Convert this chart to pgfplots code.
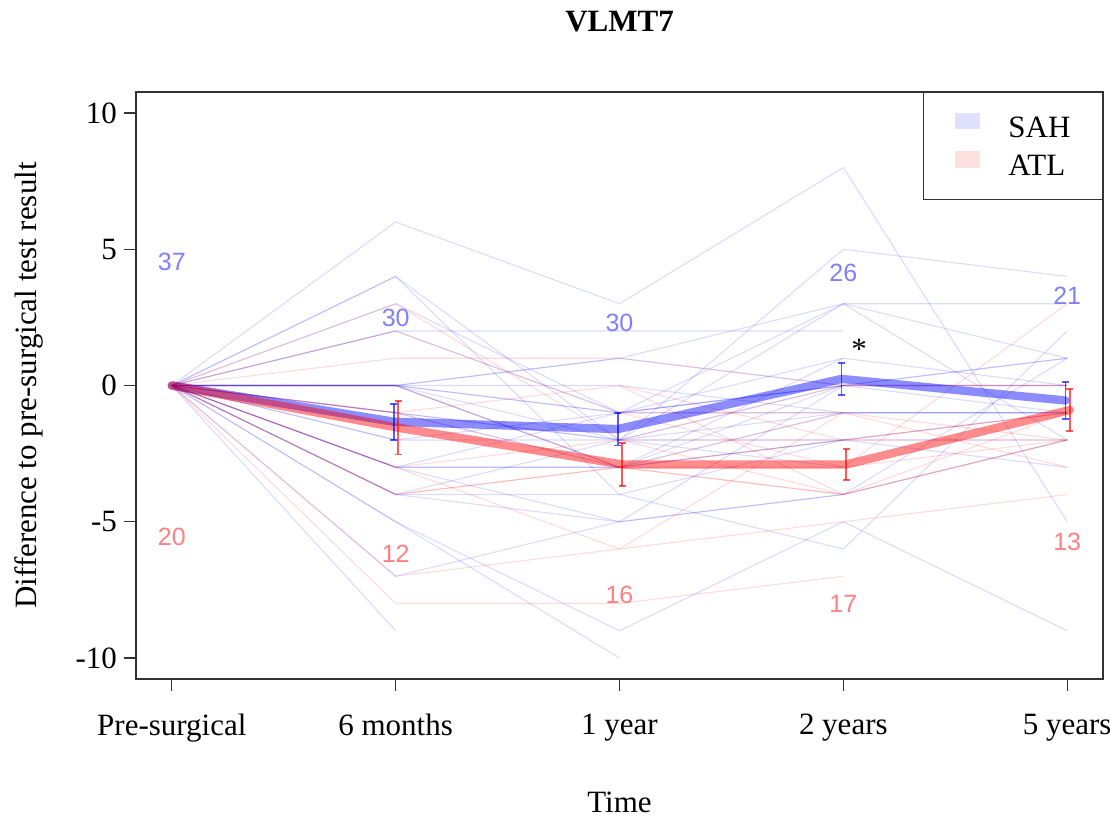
\documentclass[border=0pt]{standalone}
\usepackage{fontspec}
\setmainfont{Liberation Serif}
\newfontfamily\arialfont{Liberation Sans}
\usepackage{pgfplots}
\pgfplotsset{compat=1.18}

\definecolor{sahline}{RGB}{0,0,255}
\definecolor{atlline}{RGB}{255,0,0}
\definecolor{sahtext}{RGB}{128,128,255}
\definecolor{atltext}{RGB}{255,128,128}
\definecolor{sahleg}{RGB}{224,224,255}
\definecolor{atlleg}{RGB}{255,224,224}

\newcommand\rfont{\fontsize{15.5}{18}\selectfont}
\newcommand\nfont{\arialfont\fontsize{12.5}{14}\selectfont}

\pgfplotsset{
  sah/.style={sahline, opacity=0.14, line width=0.55pt, no markers, forget plot},
  atl/.style={atlline, opacity=0.14, line width=0.55pt, no markers, forget plot},
  every axis title/.style={at={(axis description cs:0.5,1.1022)}, anchor=base},
}

\begin{document}
\begin{tikzpicture}
\begin{axis}[
  name=ax,
  scale only axis,
  width=483.5pt, height=293.5pt,
  xmin=-0.16, xmax=4.16, ymin=-10.77, ymax=10.77,
  enlargelimits=false,
  xtick={0,1,2,3,4},
  xticklabels={Pre-surgical,6 months,1 year,2 years,5 years},
  ytick={-10,-5,0,5,10},
  yticklabels={-10,-5,0,5,10},
  tick align=outside, xtick pos=bottom, ytick pos=left,
  major tick length=6pt,
  tick style={black!80, line width=0.6pt},
  axis line style={black!80, line width=0.6pt},
  tick label style={font=\rfont},
  xticklabel style={yshift=-8pt},
  label style={font=\rfont},
  title style={font=\rfont\bfseries},
  title={VLMT7},
  xlabel={Time},
  xlabel style={at={(axis description cs:0.5,-0.2266)}, anchor=base},
  ylabel={Difference to pre-surgical test result},
  ylabel style={at={(axis description cs:-0.1024,0.5)}, anchor=base},
  legend style={
    at={(rel axis cs:1,1)}, anchor=north east,
    draw=black!80, line width=0.6pt, fill=white,
    inner xsep=16pt, inner ysep=10.2pt,
    row sep=5.4pt, font=\rfont,
    nodes={inner sep=0pt, text height=10.3pt, text depth=1.8pt},
    /tikz/every odd column/.append style={column sep=14pt},
  },
  legend cell align=left,
  unbounded coords=jump,
  clip=false,
]
\addlegendimage{legend image code/.code={\fill[sahleg] (0pt,0pt) rectangle (12pt,7.5pt);}}
\addlegendentry{SAH}
\addlegendimage{legend image code/.code={\fill[atlleg] (0pt,0pt) rectangle (12pt,7.5pt);}}
\addlegendentry{ATL}

% individual SAH patients
\addplot[sah] coordinates {(0,0)(1,6)(2,3)(3,8)(4,-5)};
\addplot[sah] coordinates {(0,0)(1,4)(2,-2)(3,5)(4,4)};
\addplot[sah] coordinates {(0,0)(1,4)(2,-4)(3,-6)(4,2)};
\addplot[sah] coordinates {(0,0)(1,3)(2,-1)(3,3)(4,3)};
\addplot[sah] coordinates {(0,0)(1,2)(2,2)(3,2)(4,nan)};
\addplot[sah] coordinates {(0,0)(1,0)(2,1)(3,3)(4,-2)};
\addplot[sah] coordinates {(0,0)(1,0)(2,1)(3,0)(4,1)};
\addplot[sah] coordinates {(0,0)(1,0)(2,0)(3,-1)(4,-1)};
\addplot[sah] coordinates {(0,0)(1,0)(2,-3)(3,1)(4,0)};
\addplot[sah] coordinates {(0,0)(1,0)(2,-1)(3,-1)(4,-1)};
\addplot[sah] coordinates {(0,0)(1,-1)(2,-3)(3,0)(4,1)};
\addplot[sah] coordinates {(0,0)(1,-2)(2,-2)(3,3)(4,1)};
\addplot[sah] coordinates {(0,0)(1,-3)(2,-3)(3,-2)(4,-2)};
\addplot[sah] coordinates {(0,0)(1,-3)(2,-5)(3,-4)(4,1)};
\addplot[sah] coordinates {(0,0)(1,-4)(2,-2)(3,-2)(4,-3)};
\addplot[sah] coordinates {(0,0)(1,-4)(2,-4)(3,-2)(4,-1)};
\addplot[sah] coordinates {(0,0)(1,-5)(2,-10)};
\addplot[sah] coordinates {(0,0)(1,-5)(2,-9)(3,-5)(4,-9)};
\addplot[sah] coordinates {(0,0)(1,-7)(2,-5)(3,-4)(4,-2)};
\addplot[sah] coordinates {(0,0)(1,-9)};
\addplot[sah] coordinates {(0,0)(1,2)(2,-1)(3,0)(4,0)};
\addplot[sah] coordinates {(0,0)(1,-1)(2,-2)(3,0)};
\addplot[sah] coordinates {(0,0)(1,0)(2,-1)(3,1)};
\addplot[sah] coordinates {(0,0)(1,-3)(2,-3)(3,-1)};
\addplot[sah] coordinates {(0,0)(1,-1)(2,-2)(3,-3)};
\addplot[sah] coordinates {(0,0)(1,-4)(2,-5)(3,0)};
\addplot[sah] coordinates {(0,0)(1,0)(2,-2)(3,-1)(4,-1)};
\addplot[sah] coordinates {(0,0)(1,-2)(2,-1)(3,0)(4,0)};
\addplot[sah] coordinates {(0,0)(1,0)(2,-3)(3,-2)};
\addplot[sah] coordinates {(0,0)(1,-3)(2,-1)(3,0)(4,-1)};

% individual ATL patients
\addplot[atl] coordinates {(0,0)(1,3)(2,-2)(3,-4)(4,-2)};
\addplot[atl] coordinates {(0,0)(1,2)(2,-1)(3,-1)(4,-3)};
\addplot[atl] coordinates {(0,0)(1,1)(2,1)(3,0)(4,0)};
\addplot[atl] coordinates {(0,0)(1,-1)(2,0)(3,-2)(4,-1)};
\addplot[atl] coordinates {(0,0)(1,0)(2,-3)(3,-3)(4,3)};
\addplot[atl] coordinates {(0,0)(1,-1)(2,-3)(3,-4)(4,-2)};
\addplot[atl] coordinates {(0,0)(1,-3)(2,-6)(3,-1)};
\addplot[atl] coordinates {(0,0)(1,-4)(2,-3)(3,-4)};
\addplot[atl] coordinates {(0,0)(1,-7)(2,-6)(3,-5)(4,-4)};
\addplot[atl] coordinates {(0,0)(1,-8)(2,-8)(3,-7)};
\addplot[atl] coordinates {(0,0)(1,-3)(2,-2)(3,0)(4,0)};
\addplot[atl] coordinates {(0,0)(1,-4)(2,-3)(3,-1)(4,-2)};
\addplot[atl] coordinates {(2,-2)(3,-2)(4,-1)};
\addplot[atl] coordinates {(2,0)(3,-4)};
\addplot[atl] coordinates {(2,-3)(3,-2)(4,-2)};
\addplot[atl] coordinates {(2,-1)(3,-3)(4,-2)};
\addplot[atl] coordinates {(3,-4)(4,-1)};

% group means
\addplot[sahline, opacity=0.45, line width=4.2pt, no markers, forget plot, line join=round, line cap=round]
  coordinates {(0,0)(0.992,-1.33)(1.992,-1.6)(2.992,0.24)(3.992,-0.55)};
\addplot[atlline, opacity=0.45, line width=4.2pt, no markers, forget plot, line join=round, line cap=round]
  coordinates {(0,0)(1.012,-1.55)(2.012,-2.9)(3.012,-2.9)(4.012,-0.9)};

% standard errors
\addplot[draw=none, mark=none, forget plot,
  error bars/.cd, y dir=both, y explicit,
  error bar style={draw=sahline, opacity=0.65, line width=0.9pt},
  error mark options={draw=sahline, opacity=0.65, rotate=90, mark size=1.75pt, line width=0.9pt}]
  coordinates {(0.992,-1.33) +- (0,0.66) (1.992,-1.6) +- (0,0.6)
               (2.992,0.24) +- (0,0.6) (3.992,-0.55) +- (0,0.67)};
\addplot[draw=none, mark=none, forget plot,
  error bars/.cd, y dir=both, y explicit,
  error bar style={draw=atlline, opacity=0.65, line width=0.9pt},
  error mark options={draw=atlline, opacity=0.65, rotate=90, mark size=1.75pt, line width=0.9pt}]
  coordinates {(1.012,-1.55) +- (0,0.98) (2.012,-2.9) +- (0,0.8)
               (3.012,-2.9) +- (0,0.57) (4.012,-0.9) +- (0,0.76)};

% sample sizes
\node[sahtext, font=\nfont] at (axis cs:0,4.52) {37};
\node[atltext, font=\nfont] at (axis cs:0,-5.57) {20};
\node[sahtext, font=\nfont] at (axis cs:1,2.47) {30};
\node[atltext, font=\nfont] at (axis cs:1,-6.19) {12};
\node[sahtext, font=\nfont] at (axis cs:2,2.28) {30};
\node[atltext, font=\nfont] at (axis cs:2,-7.68) {16};
\node[sahtext, font=\nfont] at (axis cs:3,4.15) {26};
\node[atltext, font=\nfont] at (axis cs:3,-8.0) {17};
\node[sahtext, font=\nfont] at (axis cs:4,3.31) {21};
\node[atltext, font=\nfont] at (axis cs:4,-5.75) {13};
\node[anchor=base, font=\rfont] at (axis cs:3.07,0.94) {*};
\end{axis}
\pgfresetboundingbox
\path[use as bounding box] ([xshift=-68pt,yshift=-69.5pt]ax.south west)
  rectangle ([xshift=3.5pt,yshift=46pt]ax.north east);
\end{tikzpicture}
\end{document}
